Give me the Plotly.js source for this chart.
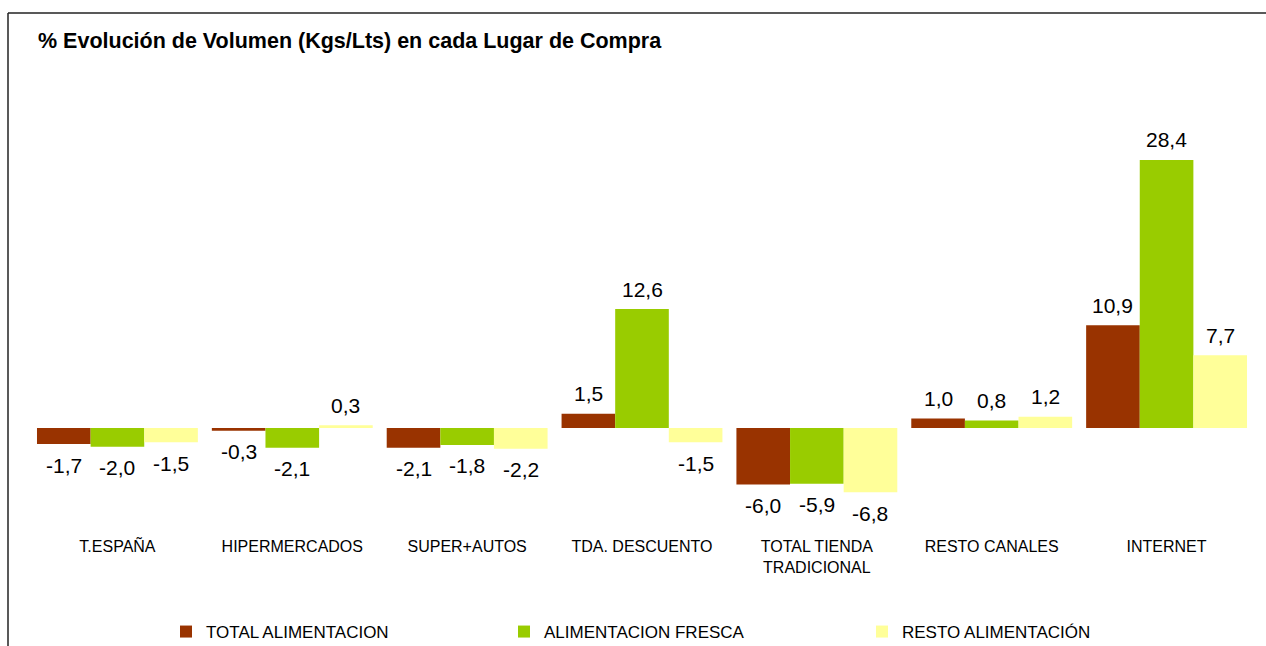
<!DOCTYPE html>
<html><head><meta charset="utf-8">
<script src="https://cdn.plot.ly/plotly-3.0.1.min.js"></script>
<style>html,body{margin:0;padding:0;background:#fff}</style>
</head><body>
<div id="chart" style="width:1266px;height:646px"></div>
<script>
const categories = ["T.ESPAÑA","HIPERMERCADOS","SUPER+AUTOS","TDA. DESCUENTO","TOTAL TIENDA<br>TRADICIONAL","RESTO CANALES","INTERNET"];
const seriesNames = ["TOTAL ALIMENTACION","ALIMENTACION FRESCA","RESTO ALIMENTACIÓN"];
const totalAlimentacion = [-1.7,-0.3,-2.1,1.5,-6.0,1.0,10.9];
const alimentacionFresca = [-2.0,-2.1,-1.8,12.6,-5.9,0.8,28.4];
const restoAlimentacion = [-1.5,0.3,-2.2,-1.5,-6.8,1.2,7.7];
const colors = ["#993300","#99CC00","#FFFF99"];
const series = [totalAlimentacion, alimentacionFresca, restoAlimentacion];
const legendIds = ["legend","legend2","legend3"];

const FONT = "Liberation Sans, Arial, sans-serif";
const traces = series.map((vals,i)=>({
  type:"bar", x:categories, y:vals, name:seriesNames[i],
  marker:{color:colors[i], line:{width:0}},
  legend:legendIds[i], hoverinfo:"none"
}));

// plot area geometry (pixels)
const L=30, R=12, T=140, B=111, W=1266, H=646;
const pw = W-L-R;
const groupPx = pw/categories.length;
const bargap = 0.08;
const barPx = groupPx*(1-bargap)/3;

const annotations = [];
series.forEach((vals,i)=>{
  vals.forEach((v,j)=>{
    annotations.push({
      x:categories[j], y:v, xref:"x", yref:"y",
      text:v.toFixed(1).replace(".",","), showarrow:false,
      xshift:(i-1)*barPx, yshift:v>=0?20:-21,
      yanchor:"middle",
      font:{family:FONT,size:21,color:"#000"}
    });
  });
});

const legendBase = {orientation:"h", xref:"container", yref:"container", yanchor:"middle", y:1-632/H,
  font:{family:FONT,size:17,color:"#000"}, bgcolor:"rgba(0,0,0,0)", borderwidth:0};

const layout = {
  width:W, height:H,
  margin:{l:L,r:R,t:T,b:B,pad:0},
  paper_bgcolor:"#fff", plot_bgcolor:"#fff",
  barmode:"group", bargap:bargap, bargroupgap:0,
  title:{text:"<b>% Evolución de Volumen (Kgs/Lts) en cada Lugar de Compra</b>",
    xref:"container", yref:"container", x:38/W, xanchor:"left", y:1-40/H, yanchor:"middle",
    font:{family:FONT,size:21.5,color:"#000"}},
  xaxis:{showline:false, showgrid:false, zeroline:false, ticks:"", tickfont:{family:FONT,size:16,color:"#000"}, fixedrange:true},
  yaxis:{range:[-(H-B-428)/9.437, (428-T)/9.437], visible:false, showgrid:false, zeroline:false, fixedrange:true},
  showlegend:true,
  legend:Object.assign({}, legendBase, {x:166/W}),
  legend2:Object.assign({}, legendBase, {x:504/W}),
  legend3:Object.assign({}, legendBase, {x:862/W}),
  annotations:annotations,
  shapes:[
    {type:"line", xref:"paper", yref:"paper", x0:(8-L)/pw, x1:(1300-L)/pw, y0:1+(T-13)/(H-T-B), y1:1+(T-13)/(H-T-B), line:{color:"#222",width:1.5}},
    {type:"line", xref:"paper", yref:"paper", x0:(8-L)/pw, x1:(8-L)/pw, y0:1+(T-13)/(H-T-B), y1:-(B+20)/(H-T-B), line:{color:"#222",width:1.5}}
  ]
};
Plotly.newPlot("chart", traces, layout, {staticPlot:true, displayModeBar:false});
</script>
</body></html>
